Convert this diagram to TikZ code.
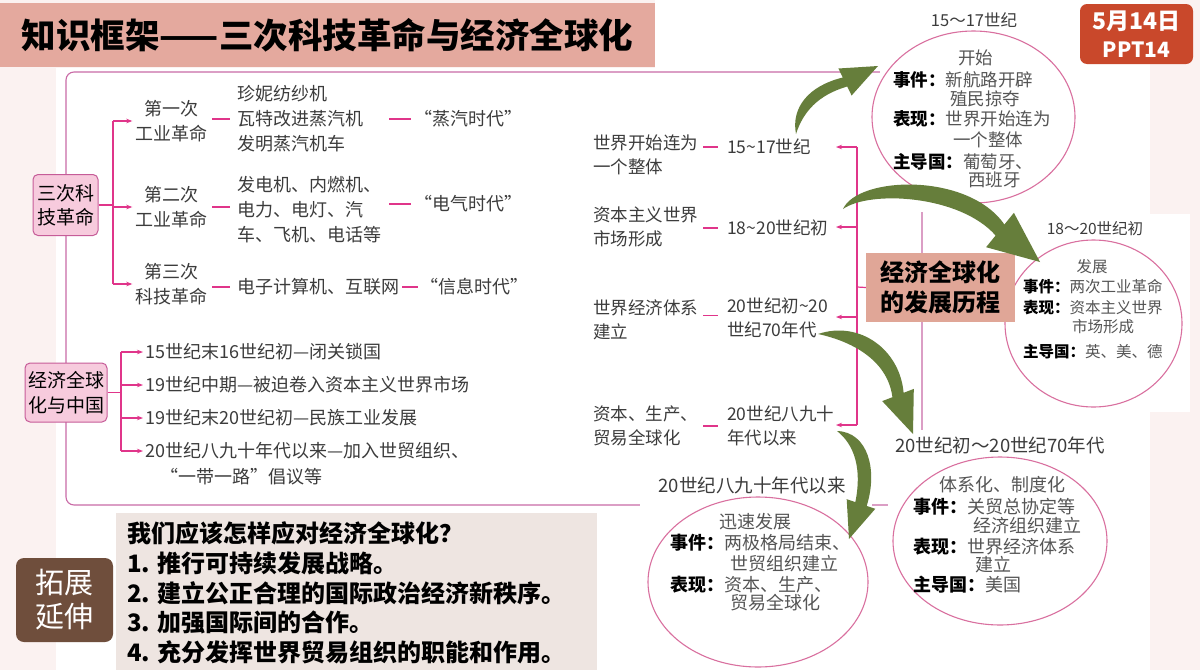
\documentclass[tikz,border=0pt]{standalone}
\usepackage{fontspec}
\setmainfont{Noto Sans CJK SC}
\usetikzlibrary{arrows.meta,shapes.geometric}
\definecolor{treec}{HTML}{E0358A}
\definecolor{framec}{HTML}{C96AA6}
\definecolor{boxfill}{HTML}{F7CBDD}
\definecolor{boxline}{HTML}{C65C98}
\definecolor{titlefill}{HTML}{E4A99E}
\definecolor{datefill}{HTML}{C9482B}
\definecolor{extbrown}{HTML}{6F4E3C}
\definecolor{beige}{HTML}{EEE5E1}
\definecolor{circc}{HTML}{D9709F}
\definecolor{leaf}{HTML}{667E3B}
\definecolor{txtc}{HTML}{3C3C3C}
\definecolor{valc}{HTML}{555555}
\definecolor{bgpink}{HTML}{FBF2F1}
\definecolor{centerfill}{HTML}{E0A697}
\newcommand\cirlab[1]{{\bfseries\color{black}#1}}
\tikzset{
  tree/.style={draw=treec, line width=1.2pt},
  tarr/.style={tree, -{Stealth[length=6pt,width=4.5pt]}},
  outerframe/.style={draw=framec, line width=1.1pt, rounded corners=8pt},
  catbox/.style={draw=boxline, fill=boxfill, line width=1pt, rounded corners=5pt, inner sep=0pt, align=center, font=\fontsize{19}{24}\selectfont, text=black},
  ttxt/.style={inner sep=0pt, anchor=west, align=left, text=txtc, font=\fontsize{18}{25}\selectfont},
  rtxt/.style={inner sep=0pt, align=center, text=txtc, font=\fontsize{18}{25}\selectfont},
  mtxt/.style={inner sep=0pt, anchor=west, align=left, text=txtc, font=\fontsize{17.5}{24}\selectfont},
  circ/.style={ellipse, draw=circc, line width=1.1pt, fill=white, inner sep=0pt},
  clab/.style={inner sep=0pt, text=txtc},
  cline/.style={inner sep=0pt, anchor=west, text=valc},
  ccen/.style={inner sep=0pt, text=valc},
  qtxt/.style={inner sep=0pt, anchor=west, text=black, font=\bfseries\fontsize{24}{30}\selectfont},
}
\begin{document}
\begin{tikzpicture}[x=1pt,y=-1pt]
\useasboundingbox (0,0) rectangle (1200,670);
\fill[bgpink] (0,0) rectangle (1200,670);
\fill[white] (56,68) rectangle (1150,670);
\fill[white] (655,0) rectangle (1150,68);

% title
\node[fill=titlefill, minimum width=655pt, minimum height=64pt, inner sep=0pt, font=\bfseries\fontsize{34.5}{40}\selectfont, text=black] (title) at (327.5,35) {知识框架——三次科技革命与经济全球化};
\node[fill=datefill, rounded corners=7pt, minimum width=113pt, minimum height=60pt, inner sep=0pt, align=center, text=white, font=\bfseries\fontsize{23}{28}\selectfont] (date) at (1136.5,34) {5月14日\\{\fontsize{21}{28}\selectfont PPT14}};

% outer frame
\draw[outerframe] (66,72) rectangle (922,505);

% tree 1
\node[catbox, minimum width=65pt, minimum height=61pt] (k1) at (65.5,205) {三次科\\技革命};
\coordinate (b1) at (113,0);
\node[rtxt] (r1) at (171.5,121) {第一次\\工业革命};
\node[rtxt] (r2) at (171.5,207) {第二次\\工业革命};
\node[rtxt] (r3) at (171.5,284) {第三次\\科技革命};
\draw[tree] (k1.east) -- (k1.east -| b1);
\draw[tree] (b1 |- r1.west) -- (b1 |- r3.west);
\draw[tarr, shorten >=3pt] (b1 |- r1.west) -- (r1.west);
\draw[tarr, shorten >=3pt] (b1 |- r2.west) -- (r2.west);
\draw[tarr, shorten >=3pt] (b1 |- r3.west) -- (r3.west);
\node[ttxt] (t1) at (237,119) {珍妮纺纱机\\瓦特改进蒸汽机\\发明蒸汽机车};
\node[ttxt] (t2) at (237,210) {发电机、内燃机、\\电力、电灯、汽\\车、飞机、电话等};
\node[ttxt] (t3) at (237,287) {电子计算机、互联网};
\node[ttxt] (g1) at (414,119) {“蒸汽时代”};
\node[ttxt] (g2) at (414,204) {“电气时代”};
\node[ttxt] (g3) at (420,287) {“信息时代”};
\draw[tree] ([xshift=-25pt]t1.west) -- ([xshift=-7pt]t1.west);
\draw[tree] ([xshift=-25pt]t2.west |- r2.west) -- ([xshift=-7pt]t2.west |- r2.west);
\draw[tree] ([xshift=-25pt]t3.west) -- ([xshift=-7pt]t3.west);
\draw[tree] ([xshift=-25pt]g1.west) -- ([xshift=-3pt]g1.west);
\draw[tree] ([xshift=-25pt]g2.west) -- ([xshift=-3pt]g2.west);
\draw[tree] ([xshift=-18pt]g3.west) -- ([xshift=-2pt]g3.west);

% tree 2
\node[catbox, minimum width=82pt, minimum height=59pt, font=\fontsize{19}{25}\selectfont] (k2) at (66,392.5) {经济全球\\化与中国};
\coordinate (b2) at (121,0);
\node[ttxt] (c1) at (145,352) {15世纪末16世纪初—闭关锁国};
\node[ttxt] (c2) at (145,385) {19世纪中期—被迫卷入资本主义世界市场};
\node[ttxt] (c3) at (145,418) {19世纪末20世纪初—民族工业发展};
\node[ttxt] (c4) at (145,451) {20世纪八九十年代以来—加入世贸组织、};
\node[ttxt] (c4b) at (160,477) {“一带一路”倡议等};
\draw[tree] (k2.east) -- (k2.east -| b2);
\draw[tree] (b2 |- c1.west) -- (b2 |- c4.west);
\draw[tarr, shorten >=2pt] (b2 |- c1.west) -- (c1.west);
\draw[tarr, shorten >=2pt] (b2 |- c2.west) -- (c2.west);
\draw[tarr, shorten >=2pt] (b2 |- c3.west) -- (c3.west);
\draw[tarr, shorten >=2pt] (b2 |- c4.west) -- (c4.west);

% middle column
\node[mtxt] (m1) at (593,154.5) {世界开始连为\\一个整体};
\node[mtxt] (m2) at (593,226.5) {资本主义世界\\市场形成};
\node[mtxt] (m3) at (593,320) {世界经济体系\\建立};
\node[mtxt] (m4) at (593,426) {资本、生产、\\贸易全球化};
\node[mtxt] (d1) at (727,147) {15\textasciitilde 17世纪};
\node[mtxt] (d2) at (727,228) {18\textasciitilde 20世纪初};
\node[mtxt] (d3) at (727,317.5) {20世纪初\textasciitilde 20\\世纪70年代};
\node[mtxt] (d4) at (727,426) {20世纪八九十\\年代以来};
\draw[tree] ([xshift=-24pt]d1.west) -- ([xshift=-9pt]d1.west);
\draw[tree] ([xshift=-24pt]d2.west) -- ([xshift=-9pt]d2.west);
\draw[tree] ([xshift=-24pt,yshift=2pt]d3.west) -- ([xshift=-9pt,yshift=2pt]d3.west);
\draw[tree] ([xshift=-24pt]d4.west) -- ([xshift=-9pt]d4.west);
\coordinate (v1) at (857,147);
\coordinate (v2) at (857,227);
\coordinate (v3) at (857,317);
\coordinate (v4) at (857,425);
\coordinate (vm) at (857,287);
\coordinate (e1) at (836,147);
\coordinate (e2) at (836,227);
\coordinate (e3) at (836,317);
\coordinate (e4) at (836,425);
\draw[tree] (v1) -- (v4);
\draw[tarr] (v1) -- (e1);
\draw[tarr] (v2) -- (e2);
\draw[tarr] (v3) -- (e3);
\draw[tarr] (v4) -- (e4);

% circle backgrounds
\fill[white] (880,0) rectangle (1078,212);
\fill[white] (1000,214) rectangle (1190,412);
\fill[white] (888,430) rectangle (1120,670);
\fill[white] (640,470) rectangle (872,670);

% circles
\node[circ, minimum width=203pt, minimum height=172pt] (cir1) at (973.5,117) {};
\node[circ, minimum width=177pt, minimum height=167pt] (cir2) at (1093.5,323.5) {};
\node[circ, minimum width=214pt, minimum height=168pt] (cir3) at (1000,541) {};
\node[circ, minimum width=220pt, minimum height=170pt] (cir4) at (758,582) {};

\node[clab, font=\fontsize{16.5}{20}\selectfont] (lab1) at (974,20) {15～17世纪};
\node[clab, font=\fontsize{15.5}{20}\selectfont] (lab2) at (1095,229) {18～20世纪初};
\node[clab, font=\fontsize{18.5}{20}\selectfont] (lab3) at (1000,445) {20世纪初～20世纪70年代};
\node[clab, font=\fontsize{18.5}{20}\selectfont] (lab4) at (752,485) {20世纪八九十年代以来};

% circle 1
\begin{scope}[every node/.append style={font=\fontsize{17.5}{20}\selectfont}]
\node[ccen] (a0) at (975.5,58) {开始};
\node[cline] (a1) at (893,80) {\cirlab{事件：}新航路开辟};
\node[cline] (a2) at (950,99) {殖民掠夺};
\node[cline] (a3) at (893,119) {\cirlab{表现：}世界开始连为};
\node[cline] (a4) at (953,140) {一个整体};
\node[cline] (a5) at (893,162) {\cirlab{主导国：}葡萄牙、};
\node[cline] (a6) at (968,180) {西班牙};
\end{scope}
% circle 2
\begin{scope}[every node/.append style={font=\fontsize{15.5}{20}\selectfont}]
\node[ccen] (p0) at (1092,267) {发展};
\node[cline] (p1) at (1023,287) {\cirlab{事件：}两次工业革命};
\node[cline] (p2) at (1023,308) {\cirlab{表现：}资本主义世界};
\node[cline] (p3) at (1072,327) {市场形成};
\node[cline] (p4) at (1023,352) {\cirlab{主导国：}英、美、德};
\end{scope}
% circle 3
\begin{scope}[every node/.append style={font=\fontsize{18}{20}\selectfont}]
\node[ccen] (s0) at (1002,485) {体系化、制度化};
\node[cline] (s1) at (913,507) {\cirlab{事件：}关贸总协定等};
\node[cline] (s2) at (973,526) {经济组织建立};
\node[cline] (s3) at (913,547) {\cirlab{表现：}世界经济体系};
\node[cline] (s4) at (975,565) {建立};
\node[cline] (s5) at (913,585) {\cirlab{主导国：}美国};
\end{scope}
% circle 4
\begin{scope}[every node/.append style={font=\fontsize{18}{20}\selectfont}]
\node[ccen] (u0) at (755,522) {迅速发展};
\node[cline] (u1) at (670,543) {\cirlab{事件：}两极格局结束、};
\node[cline] (u2) at (730,564) {世贸组织建立};
\node[cline] (u3) at (670,585) {\cirlab{表现：}资本、生产、};
\node[cline] (u4) at (730,603) {贸易全球化};
\end{scope}

% center box
\node[fill=centerfill, minimum width=149pt, minimum height=69pt, inner sep=0pt, align=center, text=black, font=\bfseries\fontsize{24}{30}\selectfont] (hub) at (940.5,287.5) {经济全球化\\的发展历程};
\draw[tree] (vm) -- (hub.west);

% green arrows
\fill[leaf] (796,134) .. controls (791,108) and (808,86) .. (842.8,77.5) -- (838.4,68.5) -- (878,66) -- (851.6,95.5) -- (847.2,86.5) .. controls (818,95) and (803,112) .. (796,134) -- cycle;
\fill[leaf] (843,209) .. controls (858,176) and (968,172) .. (1004.4,224.5) -- (1013.9,212.8) -- (1040,262) -- (986.1,247.2) -- (995.6,235.5) .. controls (960,195) and (870,190) .. (843,209) -- cycle;
\fill[leaf] (818,334) .. controls (860,320) and (900,350) .. (903.6,392.8) -- (913.8,388.9) -- (913,434) -- (882.2,401.1) -- (892.4,397.2) .. controls (888,362) and (855,342) .. (818,334) -- cycle;
\fill[leaf] (837,431) .. controls (868,432) and (878,470) .. (866.7,505.9) -- (875.3,508.8) -- (849,539) -- (846.7,499.2) -- (855.3,502.1) .. controls (862,470) and (855,445) .. (837,431) -- cycle;

% bottom
\node[fill=extbrown, rounded corners=8pt, minimum width=97pt, minimum height=84pt, inner sep=0pt, align=center, text=white, font=\fontsize{29}{34}\selectfont] (ext) at (64.5,600) {拓展\\延伸};
\node[fill=beige, minimum width=481pt, minimum height=157pt, inner sep=0pt, anchor=north west] (qbox) at (116,513) {};
\node[qtxt] (q0) at (127,533) {我们应该怎样应对经济全球化？};
\node[qtxt] (q1) at (127,563) {1. 推行可持续发展战略。};
\node[qtxt] (q2) at (127,593) {2. 建立公正合理的国际政治经济新秩序。};
\node[qtxt] (q3) at (127,622) {3. 加强国际间的合作。};
\node[qtxt] (q4) at (127,652) {4. 充分发挥世界贸易组织的职能和作用。};
\end{tikzpicture}
\end{document}
